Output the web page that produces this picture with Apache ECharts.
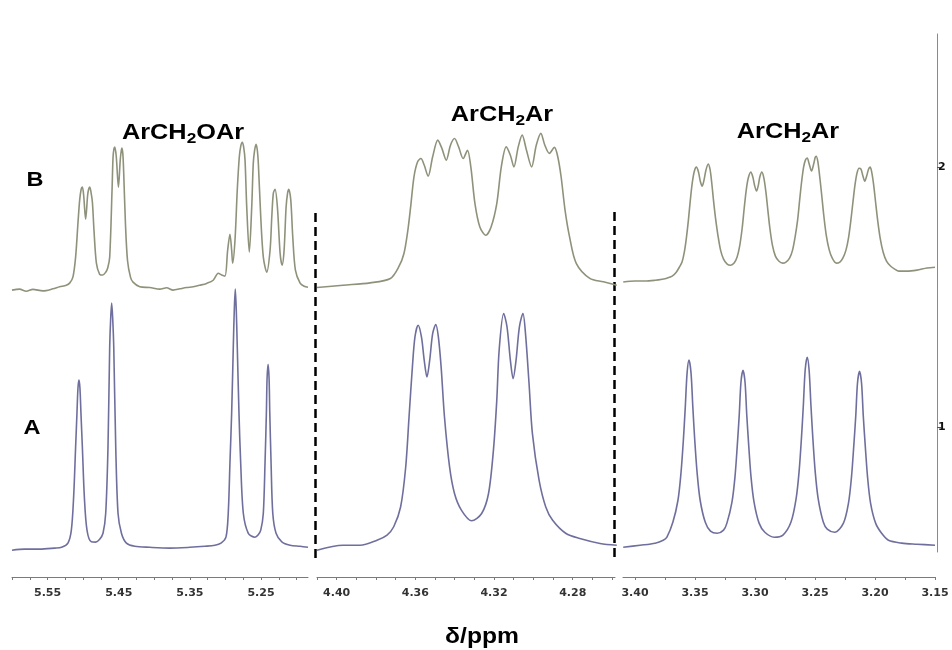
<!DOCTYPE html>
<html>
<head>
<meta charset="utf-8">
<title>ArCH2 region 1H NMR</title>
<script src="https://cdn.jsdelivr.net/npm/echarts@6/dist/echarts.min.js"></script>
<style>
  html, body { margin: 0; padding: 0; background: #fff; }
  #chart { width: 952px; height: 650px; }
</style>
</head>
<body>
<div id="chart"></div>
<script>
// Spectrum traces: [chemical shift (ppm), intensity]
// Trace B (upper) and trace A (lower) for three shift windows.
const traceB1 = [[5.6000,1.527],[5.5894,1.531],[5.5800,1.523],[5.5707,1.530],[5.5566,1.524],[5.5425,1.532],[5.5331,1.540],[5.5237,1.546],[5.5190,1.554],[5.5144,1.577],[5.5106,1.654],[5.5073,1.785],[5.5049,1.873],[5.5028,1.915],[5.5011,1.923],[5.4993,1.892],[5.4965,1.800],[5.4937,1.892],[5.4923,1.915],[5.4908,1.923],[5.4890,1.904],[5.4870,1.865],[5.4848,1.758],[5.4814,1.631],[5.4768,1.588],[5.4725,1.585],[5.4683,1.596],[5.4655,1.612],[5.4627,1.654],[5.4594,1.912],[5.4580,2.038],[5.4568,2.069],[5.4556,2.077],[5.4535,2.042],[5.4504,1.923],[5.4479,2.027],[5.4465,2.062],[5.4454,2.073],[5.4441,2.046],[5.4430,1.977],[5.4406,1.785],[5.4377,1.642],[5.4335,1.577],[5.4299,1.558],[5.4204,1.540],[5.4063,1.537],[5.3923,1.531],[5.3828,1.536],[5.3735,1.527],[5.3641,1.532],[5.3546,1.537],[5.3454,1.540],[5.3359,1.546],[5.3265,1.553],[5.3172,1.565],[5.3101,1.592],[5.3054,1.585],[5.3007,1.581],[5.2969,1.681],[5.2937,1.742],[5.2913,1.681],[5.2899,1.631],[5.2866,1.719],[5.2834,1.912],[5.2806,2.038],[5.2785,2.081],[5.2763,2.096],[5.2744,2.077],[5.2725,2.027],[5.2701,1.846],[5.2665,1.673],[5.2631,1.846],[5.2609,2.015],[5.2590,2.065],[5.2570,2.088],[5.2552,2.065],[5.2538,2.015],[5.2504,1.808],[5.2468,1.654],[5.2420,1.596],[5.2373,1.681],[5.2349,1.808],[5.2327,1.900],[5.2303,1.915],[5.2270,1.846],[5.2232,1.669],[5.2204,1.623],[5.2176,1.681],[5.2148,1.846],[5.2127,1.900],[5.2110,1.915],[5.2082,1.873],[5.2054,1.731],[5.2017,1.604],[5.1951,1.554],[5.1894,1.542],[5.1840,1.538]];
const traceA1 = [[5.6000,0.527],[5.5824,0.531],[5.5613,0.531],[5.5401,0.535],[5.5303,0.538],[5.5214,0.554],[5.5166,0.604],[5.5134,0.731],[5.5106,0.923],[5.5087,1.054],[5.5073,1.150],[5.5059,1.181],[5.5045,1.150],[5.5031,1.054],[5.5011,0.923],[5.4983,0.731],[5.4946,0.604],[5.4885,0.559],[5.4824,0.558],[5.4768,0.569],[5.4721,0.592],[5.4683,0.669],[5.4651,0.923],[5.4627,1.308],[5.4613,1.419],[5.4599,1.477],[5.4585,1.419],[5.4570,1.308],[5.4542,0.923],[5.4510,0.669],[5.4462,0.592],[5.4392,0.554],[5.4275,0.542],[5.4063,0.538],[5.3782,0.535],[5.3500,0.538],[5.3289,0.542],[5.3148,0.546],[5.3063,0.554],[5.2993,0.577],[5.2961,0.669],[5.2937,0.862],[5.2913,1.054],[5.2890,1.308],[5.2876,1.450],[5.2862,1.531],[5.2848,1.450],[5.2834,1.308],[5.2810,1.054],[5.2786,0.862],[5.2749,0.669],[5.2679,0.592],[5.2585,0.577],[5.2542,0.585],[5.2504,0.604],[5.2468,0.669],[5.2444,0.862],[5.2425,1.054],[5.2415,1.188],[5.2401,1.242],[5.2387,1.188],[5.2377,1.054],[5.2359,0.862],[5.2335,0.669],[5.2289,0.592],[5.2208,0.559],[5.2092,0.546],[5.1951,0.542],[5.1840,0.538]];

const traceB2 = [[4.4100,1.537],[4.3968,1.546],[4.3830,1.555],[4.3727,1.572],[4.3684,1.617],[4.3658,1.668],[4.3638,1.758],[4.3624,1.847],[4.3607,1.963],[4.3589,2.020],[4.3572,2.033],[4.3555,2.008],[4.3535,1.965],[4.3512,2.040],[4.3486,2.104],[4.3465,2.072],[4.3443,2.027],[4.3421,2.085],[4.3401,2.110],[4.3380,2.078],[4.3357,2.033],[4.3335,2.065],[4.3318,2.001],[4.3297,1.860],[4.3272,1.770],[4.3242,1.738],[4.3215,1.770],[4.3186,1.860],[4.3163,2.001],[4.3138,2.078],[4.3117,2.046],[4.3099,2.001],[4.3077,2.078],[4.3057,2.123],[4.3035,2.065],[4.3009,2.001],[4.2985,2.085],[4.2962,2.130],[4.2942,2.085],[4.2919,2.053],[4.2893,2.076],[4.2876,2.040],[4.2859,1.963],[4.2839,1.835],[4.2816,1.732],[4.2782,1.630],[4.2713,1.572],[4.2644,1.559],[4.2576,1.546]];
const traceA2 = [[4.4100,0.527],[4.3968,0.546],[4.3881,0.546],[4.3795,0.565],[4.3744,0.585],[4.3710,0.617],[4.3675,0.693],[4.3649,0.847],[4.3632,1.040],[4.3615,1.232],[4.3602,1.347],[4.3586,1.392],[4.3569,1.347],[4.3555,1.258],[4.3541,1.193],[4.3527,1.258],[4.3512,1.360],[4.3496,1.395],[4.3483,1.347],[4.3469,1.232],[4.3452,1.040],[4.3426,0.847],[4.3401,0.745],[4.3366,0.681],[4.3314,0.640],[4.3263,0.668],[4.3228,0.745],[4.3203,0.912],[4.3186,1.104],[4.3174,1.296],[4.3151,1.437],[4.3134,1.386],[4.3117,1.258],[4.3103,1.187],[4.3088,1.258],[4.3071,1.386],[4.3053,1.437],[4.3040,1.360],[4.3022,1.168],[4.3005,0.976],[4.2971,0.796],[4.2937,0.693],[4.2902,0.642],[4.2834,0.591],[4.2764,0.572],[4.2661,0.553],[4.2576,0.546]];

const traceB3 = [[3.4098,1.558],[3.4000,1.562],[3.3916,1.562],[3.3832,1.565],[3.3773,1.569],[3.3734,1.573],[3.3690,1.581],[3.3656,1.596],[3.3631,1.615],[3.3608,1.635],[3.3589,1.673],[3.3572,1.727],[3.3555,1.796],[3.3539,1.873],[3.3522,1.942],[3.3505,1.985],[3.3488,2.000],[3.3471,1.981],[3.3456,1.946],[3.3440,1.927],[3.3425,1.950],[3.3409,1.988],[3.3390,2.012],[3.3375,1.992],[3.3361,1.942],[3.3346,1.873],[3.3329,1.804],[3.3308,1.735],[3.3287,1.681],[3.3262,1.646],[3.3232,1.627],[3.3203,1.623],[3.3174,1.631],[3.3149,1.654],[3.3128,1.696],[3.3107,1.765],[3.3090,1.842],[3.3073,1.912],[3.3056,1.958],[3.3035,1.981],[3.3018,1.962],[3.3002,1.927],[3.2987,1.908],[3.2972,1.931],[3.2960,1.962],[3.2943,1.981],[3.2926,1.958],[3.2909,1.904],[3.2893,1.835],[3.2876,1.765],[3.2855,1.700],[3.2830,1.658],[3.2800,1.638],[3.2769,1.631],[3.2742,1.635],[3.2712,1.650],[3.2687,1.681],[3.2666,1.731],[3.2645,1.796],[3.2628,1.873],[3.2612,1.942],[3.2595,2.000],[3.2580,2.027],[3.2565,2.035],[3.2550,2.015],[3.2529,1.985],[3.2511,2.012],[3.2498,2.038],[3.2490,2.042],[3.2477,2.023],[3.2461,1.965],[3.2444,1.892],[3.2427,1.815],[3.2406,1.738],[3.2381,1.681],[3.2356,1.650],[3.2322,1.631],[3.2293,1.635],[3.2268,1.650],[3.2242,1.681],[3.2221,1.727],[3.2201,1.796],[3.2184,1.865],[3.2167,1.931],[3.2150,1.977],[3.2133,1.996],[3.2117,1.992],[3.2100,1.965],[3.2085,1.946],[3.2070,1.965],[3.2054,1.992],[3.2041,2.000],[3.2029,1.985],[3.2012,1.935],[3.1995,1.865],[3.1978,1.796],[3.1957,1.727],[3.1932,1.673],[3.1903,1.638],[3.1869,1.619],[3.1836,1.608],[3.1802,1.600],[3.1735,1.600],[3.1651,1.604],[3.1567,1.612],[3.1500,1.615]];
const traceA3 = [[3.4098,0.538],[3.3958,0.546],[3.3832,0.554],[3.3765,0.565],[3.3734,0.577],[3.3684,0.635],[3.3642,0.719],[3.3617,0.823],[3.3597,0.950],[3.3581,1.077],[3.3566,1.208],[3.3550,1.258],[3.3533,1.208],[3.3518,1.077],[3.3502,0.950],[3.3482,0.823],[3.3457,0.719],[3.3415,0.635],[3.3371,0.600],[3.3315,0.592],[3.3262,0.604],[3.3234,0.631],[3.3192,0.712],[3.3167,0.808],[3.3148,0.927],[3.3131,1.050],[3.3117,1.173],[3.3100,1.219],[3.3083,1.173],[3.3069,1.050],[3.3052,0.927],[3.3033,0.808],[3.3008,0.712],[3.2966,0.631],[3.2918,0.596],[3.2840,0.577],[3.2767,0.585],[3.2700,0.635],[3.2658,0.723],[3.2633,0.827],[3.2613,0.958],[3.2597,1.085],[3.2582,1.219],[3.2565,1.269],[3.2549,1.219],[3.2534,1.085],[3.2518,0.958],[3.2498,0.827],[3.2473,0.723],[3.2431,0.635],[3.2398,0.608],[3.2336,0.596],[3.2263,0.631],[3.2221,0.708],[3.2196,0.808],[3.2177,0.927],[3.2160,1.046],[3.2146,1.169],[3.2129,1.215],[3.2112,1.169],[3.2098,1.046],[3.2081,0.927],[3.2062,0.808],[3.2037,0.708],[3.1995,0.631],[3.1945,0.592],[3.1888,0.565],[3.1777,0.554],[3.1651,0.550],[3.1500,0.546]];

// Axis ticks and labels (ppm)
const ticks1 = [5.60,5.575,5.55,5.525,5.50,5.475,5.45,5.425,5.40,5.375,5.35,5.325,5.30,5.275,5.25,5.225,5.20];
const labels1 = [5.55,5.45,5.35,5.25];
const ticks2 = [4.41,4.40,4.39,4.38,4.37,4.36,4.35,4.34,4.33,4.32,4.31,4.30,4.29,4.28,4.27,4.26];
const labels2 = [4.40,4.36,4.32,4.28];
const ticks3 = [3.40,3.375,3.35,3.325,3.30,3.275,3.25,3.225,3.20,3.175,3.15];
const labels3 = [3.40,3.35,3.30,3.25,3.20,3.15];
const intensityLabels = [1, 2];

// Window limits (ppm) for each panel
const windows = [[5.184, 5.600], [4.2585, 4.410], [3.150, 3.410]];
const intensityRange = [0.52, 2.512];

const colorB = '#8f927a';
const colorA = '#6f6f9e';

const chart = echarts.init(document.getElementById('chart'), null, { renderer: 'canvas' });

const gridTop = 34, gridHeight = 518;
const grids = [
  { left: 12, width: 296, top: gridTop, height: gridHeight },
  { left: 317, width: 298, top: gridTop, height: gridHeight },
  { left: 623, width: 312, top: gridTop, height: gridHeight }
];

function ppmAxis(i, ticks, labels) {
  return {
    type: 'value', gridIndex: i, inverse: true,
    min: windows[i][0], max: windows[i][1],
    offset: 25,
    axisLine: { show: true, onZero: false, lineStyle: { color: '#7a7a7a', width: 1 } },
    axisTick: { show: true, inside: false, length: 3, customValues: ticks, lineStyle: { color: '#7a7a7a' } },
    axisLabel: {
      show: true, customValues: labels, margin: 11,
      formatter: v => v.toFixed(2),
      fontFamily: 'DejaVu Sans', fontWeight: 'bold', fontSize: 11, color: '#333'
    },
    splitLine: { show: false }
  };
}

function intensityAxis(i, visible) {
  return {
    type: 'value', gridIndex: i,
    min: intensityRange[0], max: intensityRange[1],
    show: visible,
    position: 'right', offset: 2,
    axisLine: { show: true, lineStyle: { color: '#8a8a8a', width: 1 } },
    axisTick: { show: true, inside: false, length: 4, customValues: intensityLabels, lineStyle: { color: '#555' } },
    axisLabel: {
      show: true, customValues: intensityLabels, margin: 1,
      fontFamily: 'DejaVu Sans', fontWeight: 'bold', fontSize: 11, color: '#111'
    },
    splitLine: { show: false }
  };
}

function trace(data, axisIndex, color) {
  return {
    type: 'line', xAxisIndex: axisIndex, yAxisIndex: axisIndex,
    data: data, showSymbol: false, silent: true, clip: false,
    smooth: 0.3,
    lineStyle: { color: color, width: 1.6, join: 'round' }
  };
}

const richStyles = {
  m: { fontFamily: 'Liberation Sans', fontWeight: 'bold', fontSize: 22, fill: '#000', color: '#000' },
  s: { fontFamily: 'Liberation Sans', fontWeight: 'bold', fontSize: 15, fill: '#000', color: '#000', padding: [12, 0, 0, 0] }
};

function titleText(x, y, text) {
  return {
    type: 'text', x: x, y: y, scaleX: 1.15, silent: true,
    style: { text: text, rich: richStyles, align: 'center', verticalAlign: 'middle',
             textAlign: 'center', textVerticalAlign: 'middle' }
  };
}

function plainText(x, y, text, size) {
  return {
    type: 'text', x: x, y: y, scaleX: 1.12, silent: true,
    style: { text: text, fill: '#000', font: 'bold ' + size + 'px "Liberation Sans", Arial, sans-serif',
             align: 'center', verticalAlign: 'middle', textAlign: 'center', textVerticalAlign: 'middle' }
  };
}

function dashedSeparator(x, y1, y2) {
  return {
    type: 'line', silent: true,
    shape: { x1: x, y1: y1, x2: x, y2: y2 },
    style: { stroke: '#000', lineWidth: 2.5, lineDash: [9, 5] }
  };
}

chart.setOption({
  animation: false,
  backgroundColor: '#fff',
  grid: grids,
  xAxis: [ppmAxis(0, ticks1, labels1), ppmAxis(1, ticks2, labels2), ppmAxis(2, ticks3, labels3)],
  yAxis: [intensityAxis(0, false), intensityAxis(1, false), intensityAxis(2, true)],
  series: [
    trace(traceB1, 0, colorB), trace(traceA1, 0, colorA),
    trace(traceB2, 1, colorB), trace(traceA2, 1, colorA),
    trace(traceB3, 2, colorB), trace(traceA3, 2, colorA)
  ],
  graphic: [
    dashedSeparator(315.5, 213, 558),
    dashedSeparator(614.5, 212, 558),
    titleText(183, 133, '{m|ArCH}{s|2}{m|OAr}'),
    titleText(502, 115, '{m|ArCH}{s|2}{m|Ar}'),
    titleText(788, 132, '{m|ArCH}{s|2}{m|Ar}'),
    plainText(35, 180, 'B', 21),
    plainText(32, 428, 'A', 21),
    plainText(482, 637, 'δ/ppm', 22)
  ]
});
</script>
</body>
</html>
